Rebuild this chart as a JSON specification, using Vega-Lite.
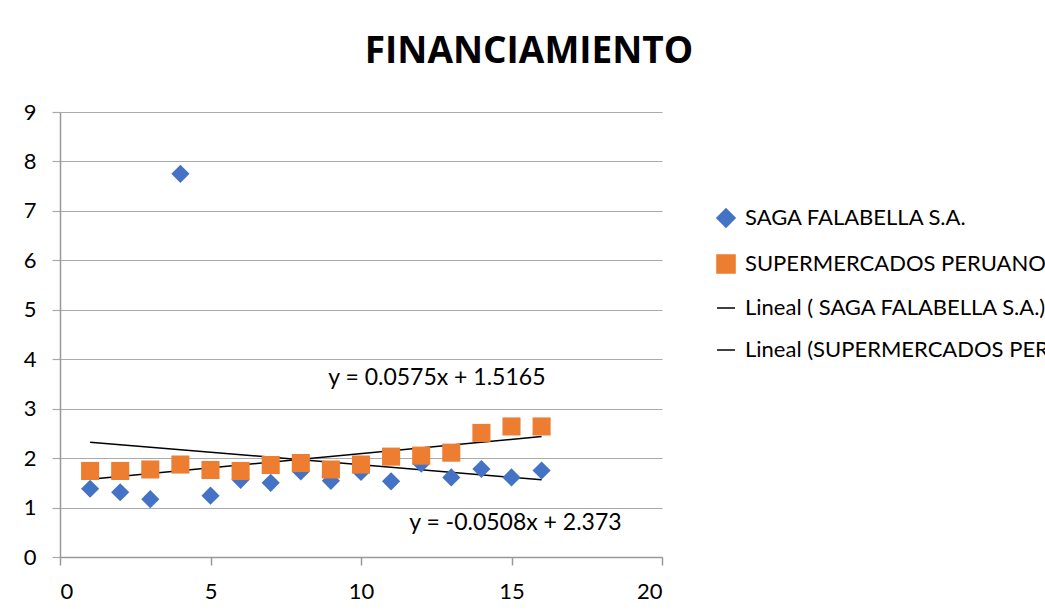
{
  "$schema": "https://vega.github.io/schema/vega-lite/v6.json",
  "width": 602,
  "height": 445,
  "autosize": "none",
  "padding": {"left": 60, "top": 112, "right": 383, "bottom": 58},
  "background": "white",
  "title": {
    "text": "FINANCIAMIENTO",
    "font": "Open Sans",
    "fontSize": 37,
    "fontWeight": "bold",
    "color": "black",
    "anchor": "middle",
    "baseline": "alphabetic",
    "offset": 1,
    "dx": 168
  },
  "datasets": {
    "points": [
      {"x": 1, "y": 1.38, "serie": "SAGA FALABELLA S.A."},
      {"x": 2, "y": 1.31, "serie": "SAGA FALABELLA S.A."},
      {"x": 3, "y": 1.17, "serie": "SAGA FALABELLA S.A."},
      {"x": 4, "y": 7.75, "serie": "SAGA FALABELLA S.A."},
      {"x": 5, "y": 1.24, "serie": "SAGA FALABELLA S.A."},
      {"x": 6, "y": 1.56, "serie": "SAGA FALABELLA S.A."},
      {"x": 7, "y": 1.5, "serie": "SAGA FALABELLA S.A."},
      {"x": 8, "y": 1.73, "serie": "SAGA FALABELLA S.A."},
      {"x": 9, "y": 1.54, "serie": "SAGA FALABELLA S.A."},
      {"x": 10, "y": 1.72, "serie": "SAGA FALABELLA S.A."},
      {"x": 11, "y": 1.53, "serie": "SAGA FALABELLA S.A."},
      {"x": 12, "y": 1.89, "serie": "SAGA FALABELLA S.A."},
      {"x": 13, "y": 1.61, "serie": "SAGA FALABELLA S.A."},
      {"x": 14, "y": 1.78, "serie": "SAGA FALABELLA S.A."},
      {"x": 15, "y": 1.61, "serie": "SAGA FALABELLA S.A."},
      {"x": 16, "y": 1.75, "serie": "SAGA FALABELLA S.A."},
      {"x": 1, "y": 1.74, "serie": "SUPERMERCADOS PERUANOS S.A."},
      {"x": 2, "y": 1.74, "serie": "SUPERMERCADOS PERUANOS S.A."},
      {"x": 3, "y": 1.77, "serie": "SUPERMERCADOS PERUANOS S.A."},
      {"x": 4, "y": 1.87, "serie": "SUPERMERCADOS PERUANOS S.A."},
      {"x": 5, "y": 1.76, "serie": "SUPERMERCADOS PERUANOS S.A."},
      {"x": 6, "y": 1.74, "serie": "SUPERMERCADOS PERUANOS S.A."},
      {"x": 7, "y": 1.86, "serie": "SUPERMERCADOS PERUANOS S.A."},
      {"x": 8, "y": 1.9, "serie": "SUPERMERCADOS PERUANOS S.A."},
      {"x": 9, "y": 1.77, "serie": "SUPERMERCADOS PERUANOS S.A."},
      {"x": 10, "y": 1.87, "serie": "SUPERMERCADOS PERUANOS S.A."},
      {"x": 11, "y": 2.03, "serie": "SUPERMERCADOS PERUANOS S.A."},
      {"x": 12, "y": 2.05, "serie": "SUPERMERCADOS PERUANOS S.A."},
      {"x": 13, "y": 2.11, "serie": "SUPERMERCADOS PERUANOS S.A."},
      {"x": 14, "y": 2.51, "serie": "SUPERMERCADOS PERUANOS S.A."},
      {"x": 15, "y": 2.64, "serie": "SUPERMERCADOS PERUANOS S.A."},
      {"x": 16, "y": 2.64, "serie": "SUPERMERCADOS PERUANOS S.A."}
    ],
    "trends": [
      {"x": 1, "y": 2.3222, "serie": "Lineal ( SAGA FALABELLA S.A.)"},
      {"x": 16, "y": 1.5602, "serie": "Lineal ( SAGA FALABELLA S.A.)"},
      {"x": 1, "y": 1.574, "serie": "Lineal (SUPERMERCADOS PERUANOS S.A.)"},
      {"x": 16, "y": 2.4365, "serie": "Lineal (SUPERMERCADOS PERUANOS S.A.)"}
    ],
    "equations": [
      {"x": 12.52, "y": 3.62, "text": "y = 0.0575x + 1.5165"},
      {"x": 15.13, "y": 0.69, "text": "y = -0.0508x + 2.373"}
    ]
  },
  "encoding": {
    "x": {
      "field": "x",
      "type": "quantitative",
      "scale": {"domain": [0, 20], "nice": false, "zero": false},
      "axis": {
        "title": null,
        "values": [0, 5, 10, 15, 20],
        "grid": false,
        "domainColor": "#999999",
        "domainWidth": 1.5,
        "tickColor": "#999999",
        "tickWidth": 1.5,
        "tickSize": 8,
        "labelPadding": 16,
        "labelFont": "Lato",
        "labelFontSize": 22,
        "labelColor": "black"
      }
    },
    "y": {
      "field": "y",
      "type": "quantitative",
      "scale": {"domain": [0, 9], "nice": false},
      "axis": {
        "title": null,
        "values": [0, 1, 2, 3, 4, 5, 6, 7, 8, 9],
        "grid": true,
        "gridColor": "#aaaaaa",
        "gridWidth": 1.2,
        "domainColor": "#999999",
        "domainWidth": 1.5,
        "tickColor": "#aaaaaa",
        "tickWidth": 1.2,
        "tickSize": 8,
        "labelPadding": 16,
        "labelFont": "Lato",
        "labelFontSize": 22,
        "labelColor": "black"
      }
    }
  },
  "layer": [
    {
      "data": {"name": "trends"},
      "mark": {"type": "line", "strokeWidth": 1.5},
      "encoding": {
        "color": {
          "field": "serie",
          "type": "nominal",
          "scale": {
            "domain": ["SAGA FALABELLA S.A.", "SUPERMERCADOS PERUANOS S.A.", "Lineal ( SAGA FALABELLA S.A.)", "Lineal (SUPERMERCADOS PERUANOS S.A.)"],
            "range": ["#4472C4", "#ED7D31", "#000000", "#000000"]
          }
        },
        "detail": {"field": "serie"}
      }
    },
    {
      "data": {"name": "points"},
      "mark": {"type": "point", "filled": true, "opacity": 1},
      "encoding": {
        "color": {
          "field": "serie",
          "type": "nominal",
          "scale": {
            "domain": ["SAGA FALABELLA S.A.", "SUPERMERCADOS PERUANOS S.A.", "Lineal ( SAGA FALABELLA S.A.)", "Lineal (SUPERMERCADOS PERUANOS S.A.)"],
            "range": ["#4472C4", "#ED7D31", "#000000", "#000000"]
          }
        },
        "shape": {
          "field": "serie",
          "type": "nominal",
          "scale": {
            "domain": ["SAGA FALABELLA S.A.", "SUPERMERCADOS PERUANOS S.A.", "Lineal ( SAGA FALABELLA S.A.)", "Lineal (SUPERMERCADOS PERUANOS S.A.)"],
            "range": ["diamond", "square", "stroke", "stroke"]
          }
        },
        "size": {
          "field": "serie",
          "type": "nominal",
          "scale": {
            "domain": ["SAGA FALABELLA S.A.", "SUPERMERCADOS PERUANOS S.A.", "Lineal ( SAGA FALABELLA S.A.)", "Lineal (SUPERMERCADOS PERUANOS S.A.)"],
            "range": [330, 320, 2025, 2025]
          }
        }
      }
    },
    {
      "data": {"name": "equations"},
      "mark": {"type": "text", "font": "Lato", "fontSize": 23, "color": "black"},
      "encoding": {
        "text": {"field": "text"}
      }
    }
  ],
  "resolve": {"scale": {"color": "shared", "shape": "shared"}},
  "config": {
    "view": {"stroke": null},
    "style": {
      "guide-label": {"lineBreak": "\n", "lineHeight": 29}
    },
    "legend": {
      "title": null,
      "orient": "none",
      "legendX": 655,
      "legendY": 95,
      "labelFont": "Lato",
      "labelFontSize": 22,
      "labelColor": "black",
      "labelOffset": 8,
      "labelLimit": 500,
      "rowPadding": 20,
      "symbolLimit": 10,
      "labelExpr": "datum.label == 'SAGA FALABELLA S.A.' ? ' SAGA FALABELLA S.A.' : datum.label == 'SUPERMERCADOS PERUANOS S.A.' ? 'SUPERMERCADOS\nPERUANOS S.A.' : datum.label == 'Lineal ( SAGA FALABELLA S.A.)' ? 'Lineal ( SAGA FALABELLA\nS.A.)' : 'Lineal (SUPERMERCADOS\nPERUANOS S.A.)'"
    }
  }
}
